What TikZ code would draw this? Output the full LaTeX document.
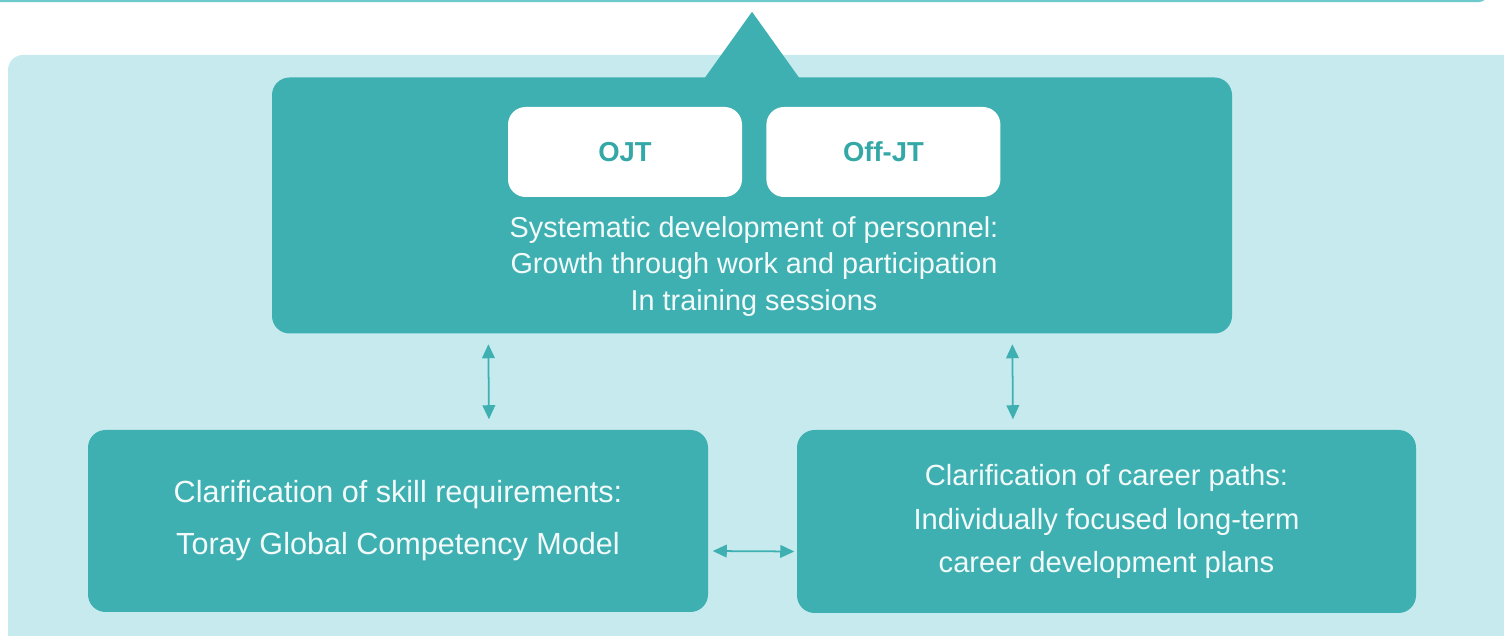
\documentclass[tikz,border=0pt]{standalone}
\usepackage{fontspec}
\setmainfont{Liberation Sans}
\usepackage{tikz}
\usetikzlibrary{positioning, arrows.meta, calc}
\definecolor{tlteal}{HTML}{3FB0B2}
\definecolor{tllight}{HTML}{C6EAED}
\definecolor{tltext}{HTML}{33A8A6}
\definecolor{tlline}{HTML}{6CCACC}
\definecolor{tlwhite}{HTML}{F2FAFA}

\begin{document}
\begin{tikzpicture}[
  block/.style={
    rectangle, rounded corners=5pt, fill=tlteal, inner sep=0pt,
    text=tlwhite, align=center
  },
  tag/.style={
    rectangle, rounded corners=5pt, fill=white,
    minimum width=2.34cm, minimum height=0.9cm,
    font=\fontsize{7.8}{9}\selectfont\bfseries, text=tltext
  },
  arr/.style={{Triangle[length=4pt,width=3.6pt]}-{Triangle[length=4pt,width=3.6pt]},
    line width=0.5pt, color=tlteal, shorten <=0.1cm, shorten >=0.1cm},
]
\useasboundingbox (0,0) rectangle (15.04,-6.36);
\clip (0,0) rectangle (15.04,-6.36);

% Background
\draw[tlline, line width=0.7pt] (-0.1,-0.01) -- (14.78,-0.01) arc[start angle=-90, end angle=0, radius=0.1];
\fill[tllight, rounded corners=0.15cm] (0.08,-6.6) rectangle (15.4,-0.55);

% Development block
\node[block, minimum width=9.6cm, minimum height=2.56cm] (dev) at (7.52,-2.055) {};
\fill[tlteal] ($(dev.north)+(-0.5,-0.05)$) -- ($(dev.north)+(0,0.65)$) -- ($(dev.north)+(0.5,-0.05)$) -- cycle;

\node[tag] (ojt) at (6.25,-1.52) {OJT};
\node[tag, right=0.23cm of ojt] (offjt) {Off-JT};
\node[font=\fontsize{8.2}{10.5}\selectfont, text=tlwhite, align=center]
  (sysdev) at ($(dev.center)+(0.02,-0.61)$)
  {Systematic development of personnel:\\Growth through work and participation\\In training sessions};

% Clarification blocks
\node[block, minimum width=6.2cm, minimum height=1.82cm,
  font=\fontsize{8.7}{14.8}\selectfont] (skill) at (3.98,-5.21)
  {Clarification of skill requirements:\\Toray Global Competency Model};
\node[block, minimum width=6.19cm, minimum height=1.83cm,
  font=\fontsize{8.3}{12.5}\selectfont] (career) at (11.065,-5.215)
  {Clarification of career paths:\\Individually focused long-term\\career development plans};

% Arrows
\draw[arr] ([xshift=2.17cm]dev.south west) -- ([xshift=0.91cm]skill.north);
\draw[arr] ([xshift=7.41cm]dev.south west) -- ([xshift=-0.935cm]career.north);
\draw[arr, shorten <=0.04cm, shorten >=0.02cm] ([yshift=-0.3cm]skill.east) -- ([yshift=-0.3cm]career.west);

\end{tikzpicture}
\end{document}
